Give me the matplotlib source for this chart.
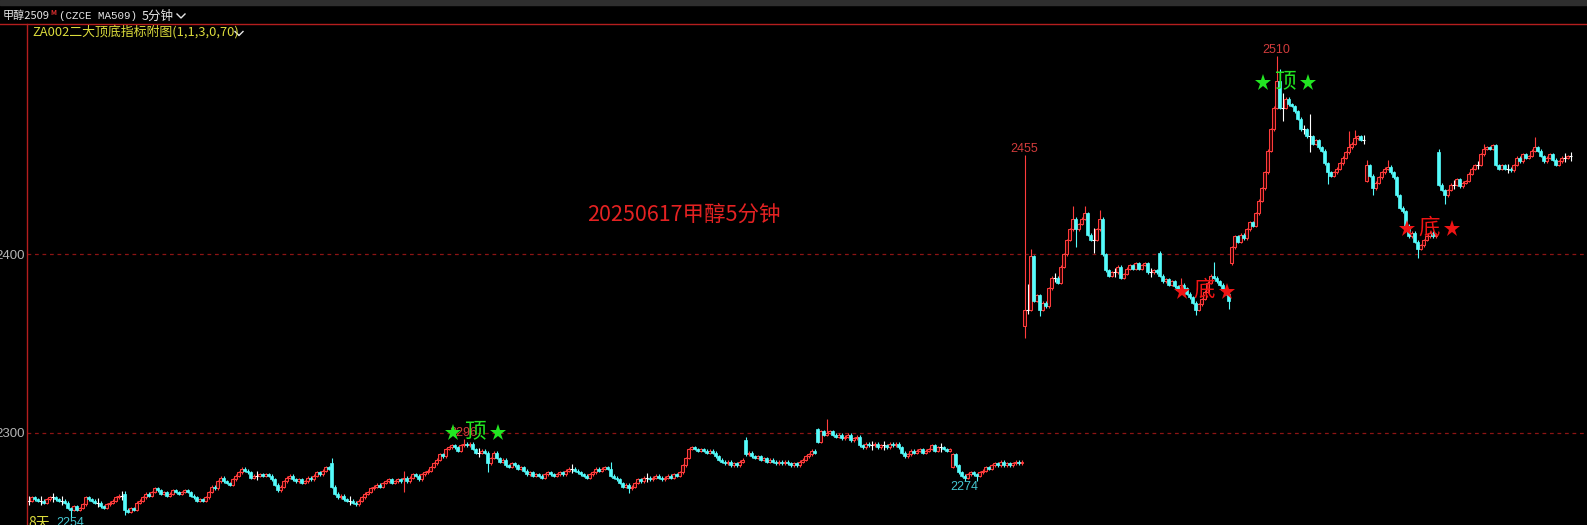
import numpy as np
import matplotlib.pyplot as plt
from matplotlib.lines import Line2D
from matplotlib.patches import Rectangle
from matplotlib.transforms import ScaledTranslation

plt.rcParams['font.family'] = ['Noto Sans CJK SC', 'DejaVu Sans']

W, H = 1587, 525

# 5-minute closes, CZCE MA509, oldest first
closes = [
    2262, 2264, 2263, 2262, 2262, 2261, 2263, 2264, 2264, 2263, 2262, 2262, 2261,
    2258, 2257, 2259, 2257, 2258, 2260, 2264, 2263, 2262, 2261, 2261, 2259, 2258,
    2260, 2261, 2262, 2264, 2265, 2265,
    2257, 2256, 2258, 2257, 2261, 2262, 2264, 2266, 2265, 2267, 2269, 2268, 2266,
    2267, 2265, 2266, 2268, 2267, 2266, 2267, 2268, 2267, 2265, 2264,
    2262, 2263, 2262, 2264, 2267, 2270, 2269, 2273, 2275, 2273, 2272, 2271, 2274,
    2276, 2278, 2280, 2279, 2278, 2275, 2276, 2276, 2277, 2276, 2277, 2276, 2274,
    2271, 2268, 2270, 2273, 2275, 2276, 2274, 2273, 2274, 2272, 2273, 2275, 2274,
    2276, 2278, 2277, 2279, 2281, 2280,
    2270, 2266, 2264, 2265, 2263, 2262, 2262, 2261, 2260, 2262, 2264, 2266, 2267,
    2269, 2270, 2271, 2270, 2272, 2273, 2274, 2272, 2273, 2274, 2273,
    2275, 2273, 2275, 2277, 2276, 2274, 2277, 2278, 2279, 2281, 2283, 2285, 2288,
    2287, 2291, 2292, 2293, 2292, 2290, 2293, 2294, 2293, 2294, 2291, 2289, 2289,
    2290, 2289, 2283, 2286, 2289, 2286, 2284, 2285, 2282, 2281, 2283, 2282, 2280,
    2281, 2279, 2277, 2278, 2276, 2277,
    2276, 2275, 2277, 2278, 2277, 2276, 2277, 2278, 2277, 2279, 2280, 2280, 2279,
    2278, 2277, 2276, 2275, 2277, 2278, 2280, 2279, 2280, 2281, 2280,
    2276, 2275, 2274, 2272, 2270, 2271, 2269, 2270, 2272, 2274, 2273, 2275, 2275,
    2274, 2275, 2276, 2275, 2274, 2275, 2276, 2275, 2277, 2276, 2278, 2282, 2286,
    2291, 2292, 2291, 2290, 2291, 2290, 2289, 2290, 2289, 2287, 2285, 2284, 2283,
    2284, 2282, 2283, 2282, 2284, 2285,
    2288, 2289, 2287, 2286, 2287, 2285, 2286, 2284, 2285, 2284, 2283, 2284, 2283,
    2284, 2283, 2282, 2283, 2282, 2284, 2285, 2287, 2288, 2290, 2289,
    2295, 2301, 2299, 2300, 2301, 2299, 2298, 2299, 2297, 2298, 2299, 2296, 2297,
    2298, 2293, 2292, 2294, 2293, 2293, 2294, 2292, 2293, 2293, 2292, 2294, 2293,
    2294, 2292, 2289, 2287, 2288, 2290, 2289, 2290, 2291, 2289, 2290, 2291, 2293,
    2290, 2292, 2292, 2291, 2290, 2291,
    2288, 2282, 2278, 2276, 2275, 2277, 2278, 2277, 2276, 2278, 2279, 2281, 2280,
    2282, 2283, 2282, 2284, 2282, 2283, 2282, 2283, 2284, 2283, 2284,
    2369, 2369, 2399, 2374, 2377, 2369, 2373, 2371, 2381, 2387, 2387, 2384, 2393,
    2400, 2408, 2414, 2420, 2414, 2417, 2420, 2423, 2411, 2408, 2408, 2414, 2420,
    2400, 2391, 2388, 2390, 2390, 2393, 2387, 2389, 2392, 2394, 2392, 2395, 2392,
    2394, 2395, 2390, 2390, 2391, 2390,
    2388, 2385, 2386, 2383, 2385, 2382, 2380, 2383, 2381, 2378, 2376, 2373, 2369,
    2372, 2375, 2379, 2384, 2388, 2387, 2385, 2383, 2380, 2378, 2374,
    2404, 2410, 2407, 2411, 2409, 2414, 2418, 2416, 2423, 2430, 2437, 2446, 2458,
    2470, 2482, 2497, 2482, 2482, 2487, 2484, 2483, 2480, 2476, 2470, 2470, 2466,
    2466, 2462, 2464, 2460, 2458, 2451, 2446, 2444, 2446, 2448, 2451, 2454, 2457,
    2460, 2462, 2465, 2466, 2464, 2464,
    2450, 2444, 2437, 2440, 2443, 2446, 2448, 2449, 2446, 2443, 2433, 2426, 2424,
    2416, 2410, 2412, 2407, 2403, 2405, 2408, 2410, 2412, 2410, 2411,
    2439, 2436, 2433, 2436, 2439, 2439, 2442, 2438, 2440, 2441, 2445, 2448, 2450,
    2450, 2456, 2459, 2460, 2459, 2461, 2450, 2448, 2450, 2448, 2448, 2447, 2450,
    2454, 2452, 2456, 2454, 2455, 2458, 2460, 2458, 2455, 2452, 2454, 2456, 2453,
    2450, 2452, 2454, 2454, 2455, 2455,
]

# opening prices of bars that gap away from the previous close (session opens)
session_open = {32: 2266, 101: 2283, 125: 2274, 194: 2280, 239: 2296, 263: 2302,
                308: 2281, 332: 2360, 377: 2401, 401: 2395, 446: 2441, 470: 2457}

# visible long shadows
high_marks = {32: 2267, 101: 2285, 125: 2278, 145: 2296, 194: 2283, 239: 2297,
              266: 2307, 332: 2455, 333: 2381, 334: 2402, 348: 2426, 352: 2426,
              355: 2412, 357: 2424, 377: 2401, 384: 2386, 395: 2395, 416: 2510,
              417: 2503, 418: 2488, 427: 2476, 440: 2468, 442: 2469, 446: 2452,
              453: 2452, 470: 2458, 485: 2461, 502: 2465}
low_marks = {14: 2254, 32: 2255, 125: 2268, 153: 2279, 200: 2267, 312: 2274,
             316: 2274, 332: 2354, 337: 2366, 349: 2405, 355: 2403, 389: 2367,
             400: 2370, 418: 2477, 427: 2460, 433: 2440, 448: 2434, 463: 2399,
             472: 2429}

# local extremes that the terminal labels: bar, where
extreme_labels = [(332, 'high'), (145, 'high'), (312, 'low')]

# 二大顶底 signals: centre bar, price, character
signals = [(149, 2300, '顶'), (419, 2496, '顶'), (392, 2379, '底'), (467, 2414, '底')]

grid_levels = [2300, 2400]
title_text = '20250617甲醇5分钟'

RED = '#ff3c3c'
CYAN = '#54fcfc'
GREEN = '#22e622'
SIG_RED = '#f01414'
LBL_RED = '#d23c3c'
LBL_CYAN = '#46c8d2'
YELLOW = '#dcdc3c'

c = np.array(closes, float)
o = np.r_[c[0], c[:-1]]
for k, v in session_open.items():
    o[k] = v
hi = np.maximum(o, c)
lo = np.minimum(o, c)
for k, v in high_marks.items():
    hi[k] = v
for k, v in low_marks.items():
    lo[k] = v
idx = np.arange(len(c))
up, dn, flat = c > o, c < o, c == o

fig = plt.figure(figsize=(W / 100, H / 100), dpi=100, facecolor='black')
ax = fig.add_axes([27 / W, 0, 1560 / W, 501 / H])
ax.set_facecolor('black')
ax.set_xlim(-0.5, -0.5 + 1560 / 3.0)
ax.set_ylim(2248.5, 2528.9)
for s in ax.spines.values():
    s.set_visible(False)
ax.set_xticks([])
ax.set_yticks(grid_levels)
ax.tick_params(axis='y', length=0, pad=1.5, labelsize=9.5, labelcolor='#b4b4b4')
for t in ax.get_yticklabels():
    t.set_fontfamily('Liberation Sans')
for g in grid_levels:
    ax.axhline(g, color='#8c1414', lw=0.9, ls=(0, (3, 3)), zorder=1)

pad = 0.8  # shadow stub beyond the body
ax.vlines(idx[up], lo[up] - pad, hi[up] + pad, color=RED, lw=0.8, zorder=2)
ax.vlines(idx[dn], lo[dn] - pad, hi[dn] + pad, color=CYAN, lw=0.8, zorder=2)
ax.vlines(idx[flat], lo[flat] - 2.5, hi[flat] + 2.5, color='white', lw=0.8, zorder=2)
ax.bar(idx[up], c[up] - o[up], bottom=o[up], width=0.7, facecolor='#3a0000',
       edgecolor=RED, linewidth=0.75, zorder=3)
ax.bar(idx[dn], o[dn] - c[dn], bottom=c[dn], width=0.7, facecolor=CYAN,
       edgecolor=CYAN, linewidth=0.5, zorder=3)
ax.hlines(c[flat], idx[flat] - 0.38, idx[flat] + 0.38, color='white', lw=0.8, zorder=3)

lab = dict(ha='center', fontsize=9, fontfamily='Liberation Sans', textcoords='offset points')
imax, imin = int(np.argmax(hi)), int(np.argmin(lo))
ax.annotate(f'{hi[imax]:.0f}', (imax, hi[imax]), xytext=(0, 1), va='bottom', color=LBL_RED, **lab)
ax.annotate(f'{lo[imin]:.0f}', (imin, lo[imin]), xytext=(0, -1), va='top', color=LBL_CYAN, **lab)
for b, kind in extreme_labels:
    if kind == 'high':
        ax.annotate(f'{hi[b]:.0f}', (b, hi[b]), xytext=(0, 1), va='bottom', color=LBL_RED, **lab)
    else:
        ax.annotate(f'{lo[b]:.0f}', (b, lo[b]), xytext=(0, -1), va='top', color=LBL_CYAN, **lab)

for b, p, ch in signals:
    col = GREEN if ch == '顶' else SIG_RED
    ax.annotate(ch, (b, p), xytext=(0, 1.5), textcoords='offset points', ha='center',
                va='center', fontsize=15.5, color=col, zorder=5)
    for dx in (-16.5, 16.5):
        ax.plot(b, p, marker='*', ms=12.5, mew=0, color=col, zorder=5,
                transform=ax.transData + ScaledTranslation(dx / 72, 0, fig.dpi_scale_trans))

fig.text(684 / W, 1 - 215 / H, title_text, color='#e42222', fontsize=15.5,
         ha='center', va='center')

# frame of the terminal window
fig.add_artist(Rectangle((0, 1 - 5 / H), 1, 5 / H, transform=fig.transFigure,
                         color='#2e2e2e', zorder=0))
fig.add_artist(Line2D([0, 1], [1 - 24 / H] * 2, transform=fig.transFigure,
                      color='#b41e1e', lw=1))
fig.add_artist(Line2D([27 / W] * 2, [0, 1 - 24 / H], transform=fig.transFigure,
                      color='#b41e1e', lw=1))


def chevron(x0, y0, w, h):
    fig.add_artist(Line2D([x0 / W, (x0 + w / 2) / W, (x0 + w) / W],
                          [1 - y0 / H, 1 - (y0 + h) / H, 1 - y0 / H],
                          transform=fig.transFigure, color='#e6e6e6', lw=1))


fig.text(3 / W, 1 - 16 / H, '甲醇2509', color='#e6e6e6', fontsize=8, va='center')
fig.text(50 / W, 1 - 12.5 / H, 'M', color='#e03030', fontsize=5, fontweight='bold', va='center')
fig.text(59 / W, 1 - 16 / H, '(CZCE MA509)', color='#e6e6e6', fontsize=7.8,
         fontfamily='Liberation Mono', va='center')
fig.text(142 / W, 1 - 16 / H, '5分钟', color='#e6e6e6', fontsize=9, va='center')
chevron(177, 14, 8, 4)
fig.text(32 / W, 1 - 32 / H, 'ZA002二大顶底指标附图(1,1,3,0,70)', color=YELLOW,
         fontsize=9.3, va='center')
chevron(235, 31.5, 8, 4)
fig.text(28 / W, 1 - 516 / H, '8天', color=YELLOW, fontsize=10, va='top')

fig.savefig('out.png', dpi=100, facecolor='black')
